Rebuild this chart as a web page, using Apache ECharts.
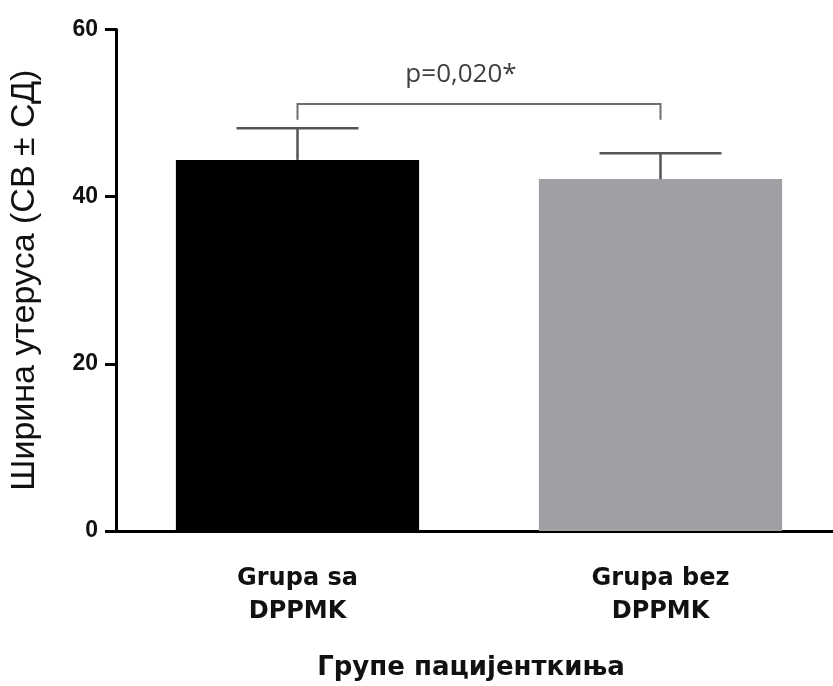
<!DOCTYPE html>
<html>
<head>
<meta charset="utf-8">
<script src="https://cdn.jsdelivr.net/npm/echarts@6/dist/echarts.min.js"></script>
<style>
  html, body { margin: 0; padding: 0; background: #fff; overflow: hidden; }
  #wrap { position: relative; width: 833px; height: 686px; overflow: hidden; }
  #chart { position: absolute; left: 0; top: 0; width: 842px; height: 686px; }
</style>
</head>
<body>
<div id="wrap"><div id="chart"></div></div>
<script>
// groups, means and SD
const groups = ['Grupa sa\nDPPMK', 'Grupa bez\nDPPMK'];
const means = [44.4, 42.1];
const sds = [3.8, 3.1];
const barColors = ['#000000', '#a0a0a4'];
const yTicks = [0, 20, 40, 60];

// significance bracket between the two groups
const sigPair = [0, 1];
const sigTop = 51.1;
const sigDrop = 49.2;
const sigText = 'p=0,020*';

const chart = echarts.init(document.getElementById('chart'));

chart.setOption({
  animation: false,
  grid: { left: 116, right: 0, top: 29.5, bottom: 151 },
  xAxis: {
    type: 'category',
    data: groups,
    name: 'Групе пацијенткиња',
    nameLocation: 'middle',
    nameGap: 124,
    nameTextStyle: {
      fontFamily: 'DejaVu Sans', fontWeight: 'bold', fontSize: 26, color: '#111',
      padding: [0, 16, 0, 0]
    },
    axisLine: { lineStyle: { color: '#000', width: 3 } },
    axisTick: { alignWithLabel: true, length: 10, lineStyle: { color: '#000', width: 3 } },
    axisLabel: {
      margin: 31,
      fontFamily: 'DejaVu Sans', fontWeight: 'bold', fontSize: 24, color: '#111',
      lineHeight: 33
    }
  },
  yAxis: {
    type: 'value',
    min: yTicks[0],
    max: yTicks[yTicks.length - 1],
    interval: 20,
    name: 'Ширина утеруса (СВ ± СД)',
    nameLocation: 'middle',
    nameGap: 74,
    nameTextStyle: { fontFamily: 'Liberation Sans', fontSize: 34, color: '#111' },
    axisLine: { show: true, lineStyle: { color: '#000', width: 3 } },
    axisTick: { show: true, length: 11, lineStyle: { color: '#000', width: 3 } },
    axisLabel: {
      margin: 18,
      fontFamily: 'Liberation Sans', fontWeight: 'bold', fontSize: 23, color: '#111'
    },
    splitLine: { show: false }
  },
  series: [
    {
      type: 'bar',
      barWidth: '67%',
      data: means.map((v, i) => ({ value: v, itemStyle: { color: barColors[i] } })),
      z: 2
    },
    {
      type: 'custom',
      data: means.map((m, i) => [i, m, m + sds[i]]),
      renderItem: function (params, api) {
        const base = api.coord([api.value(0), api.value(1)]);
        const top = api.coord([api.value(0), api.value(2)]);
        const half = api.size([1, 0])[0] * 0.168;
        const style = { stroke: '#555', lineWidth: 2.5 };
        return {
          type: 'group',
          children: [
            { type: 'line', shape: { x1: base[0], y1: base[1], x2: top[0], y2: top[1] }, style: style },
            { type: 'line', shape: { x1: top[0] - half, y1: top[1], x2: top[0] + half, y2: top[1] }, style: style }
          ]
        };
      },
      z: 3
    },
    {
      type: 'custom',
      data: [[sigPair[0], sigPair[1], sigTop, sigDrop]],
      renderItem: function (params, api) {
        const a = api.coord([api.value(0), api.value(2)]);
        const b = api.coord([api.value(1), api.value(2)]);
        const aDrop = api.coord([api.value(0), api.value(3)]);
        const style = { stroke: '#6e6e6e', lineWidth: 2, fill: 'none' };
        return {
          type: 'group',
          children: [
            { type: 'polyline', shape: { points: [[a[0], aDrop[1]], a, b, [b[0], aDrop[1]]] }, style: style },
            {
              type: 'text',
              x: (a[0] + b[0]) / 2 - 18,
              y: a[1] - 16,
              style: {
                text: sigText,
                fontFamily: 'Open Sans',
                fontSize: 26,
                fill: '#404040',
                align: 'center',
                verticalAlign: 'bottom'
              }
            }
          ]
        };
      },
      z: 3
    }
  ]
});
</script>
</body>
</html>
